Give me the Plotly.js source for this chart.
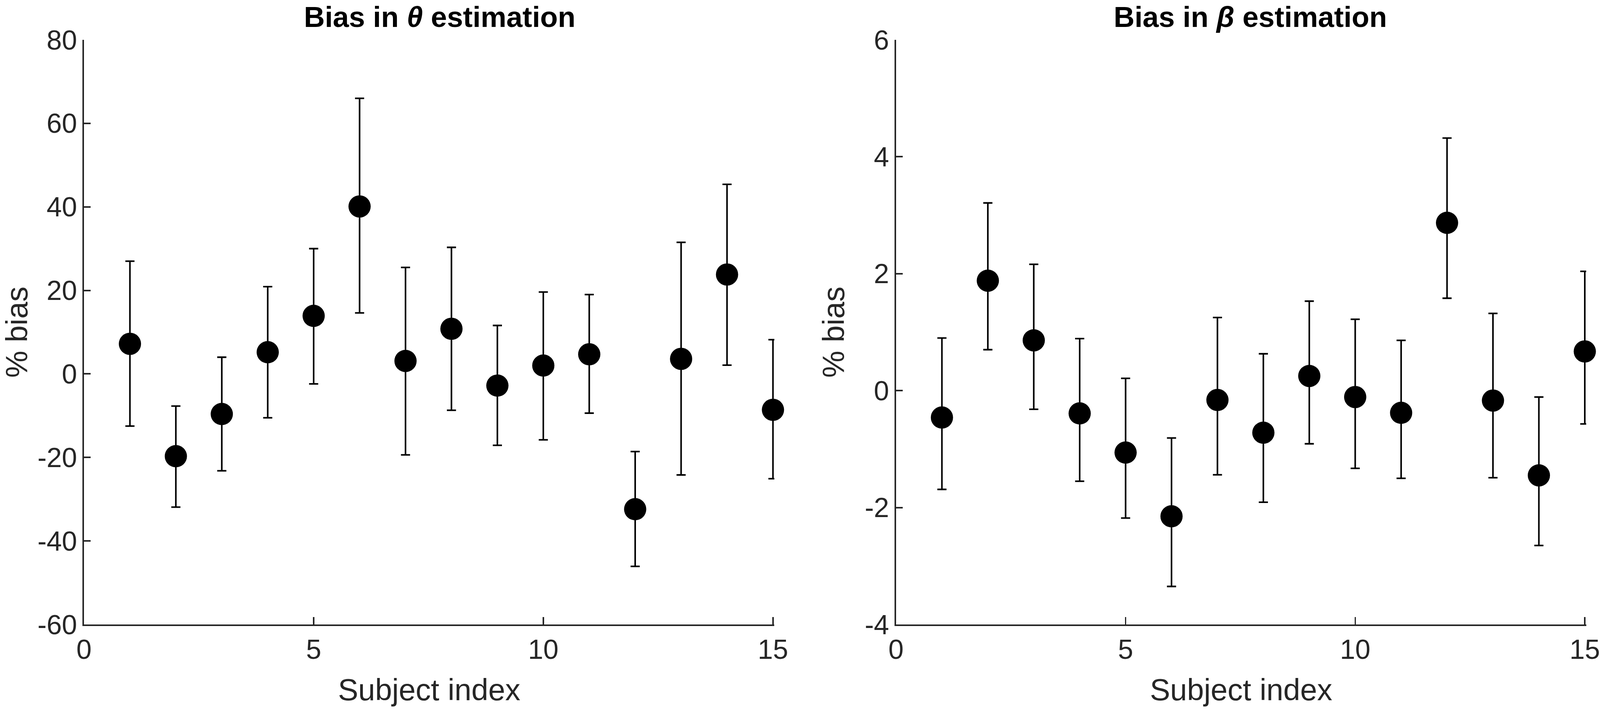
<!DOCTYPE html>
<html>
<head>
<meta charset="utf-8">
<script src="https://cdn.plot.ly/plotly-3.0.1.min.js"></script>
<style>html,body{margin:0;padding:0;background:#fff;overflow:hidden;}</style>
</head>
<body>
<div id="chart"></div>
<script>
const subjects = [1,2,3,4,5,6,7,8,9,10,11,12,13,14,15];

const thetaBias  = [7.2,-19.7,-9.6,5.2,13.9,40.1,3.1,10.8,-2.8,2.0,4.7,-32.4,3.6,23.8,-8.6];
const thetaUpper = [27.0,-7.7,4.0,20.9,30.0,66.0,25.5,30.3,11.6,19.6,19.0,-18.6,31.5,45.4,8.2];
const thetaLower = [-12.5,-31.9,-23.2,-10.5,-2.4,14.6,-19.4,-8.7,-17.1,-15.8,-9.4,-46.1,-24.2,2.1,-25.1];

const betaBias  = [-0.46,1.88,0.86,-0.39,-1.06,-2.15,-0.16,-0.72,0.25,-0.11,-0.38,2.87,-0.17,-1.45,0.67];
const betaUpper = [0.90,3.21,2.16,0.89,0.21,-0.81,1.25,0.63,1.53,1.22,0.86,4.32,1.32,-0.11,2.04];
const betaLower = [-1.69,0.70,-0.32,-1.55,-2.18,-3.35,-1.44,-1.91,-0.91,-1.33,-1.50,1.58,-1.49,-2.65,-0.57];

const xTickVals = [0,5,10,15];
const thetaTicks = [-60,-40,-20,0,20,40,60,80];
const betaTicks = [-4,-2,0,2,4,6];

const ink = '#262626';
const FONT = '"Liberation Sans", Arial, Helvetica, sans-serif';

const W = window.innerWidth || 4550, H = window.innerHeight || 1818;
const sx = W / 4550, sy = H / 1818;
const sf = Math.sqrt(sx * sy);

// tiny overshoot past 15 so the last error bar is not clipped (axis visually ends at 15)
const XMAX = 15.03;
const ext = 0.03 * 130.6 / 4550;

function trace(y, up, lo, xa, ya) {
  return {
    x: subjects, y: y, xaxis: xa, yaxis: ya,
    type: 'scatter', mode: 'markers',
    cliponaxis: false,
    marker: {color: '#000', size: 60 * sf, line: {width: 0}},
    error_y: {
      type: 'data', symmetric: false,
      array: up.map((v, i) => v - y[i]),
      arrayminus: lo.map((v, i) => y[i] - v),
      color: '#000', thickness: 4.5 * sx, width: 13 * sx
    },
    showlegend: false, hoverinfo: 'skip'
  };
}

function xaxis(domain, anchor) {
  return {
    domain: domain, anchor: anchor, range: [0, XMAX],
    tickvals: xTickVals, ticktext: xTickVals.map(String),
    ticks: 'inside', ticklen: 19 * sy, tickwidth: 4 * sx, tickcolor: ink,
    showline: true, linecolor: ink, linewidth: 4 * sy,
    showgrid: false, zeroline: false,
    ticklabeloverflow: 'allow',
    tickfont: {family: FONT, size: 74 * sf, color: ink},
    title: {text: 'Subject index', font: {family: FONT, size: 82 * sf, color: ink}, standoff: 38 * sy},
    automargin: false
  };
}

function yaxis(domain, anchor, range, ticks) {
  return {
    domain: domain, anchor: anchor, range: range,
    tickvals: ticks, ticktext: ticks.map(String),
    ticks: 'inside', ticklen: 19 * sx, tickwidth: 4 * sy, tickcolor: ink,
    showline: true, linecolor: ink, linewidth: 4 * sx,
    showgrid: false, zeroline: false,
    ticklabeloverflow: 'allow',
    tickfont: {family: FONT, size: 74 * sf, color: ink},
    title: {text: '% bias', font: {family: FONT, size: 82 * sf, color: ink}, standoff: 30 * sx},
    automargin: false
  };
}

const yDom = [0.1205, 0.9439];

const layout = {
  width: W, height: H,
  margin: {l: 0, r: 0, t: 0, b: 0},
  paper_bgcolor: '#fff', plot_bgcolor: '#fff',
  font: {family: FONT, color: ink},
  xaxis: xaxis([0.0525, 0.4831 + ext], 'y'),
  yaxis: yaxis(yDom, 'x', [-60, 80], thetaTicks),
  xaxis2: xaxis([0.5600, 0.9905 + ext], 'y2'),
  yaxis2: yaxis(yDom, 'x2', [-4, 6], betaTicks),
  annotations: [
    {text: '<b>Bias in <i>θ</i> estimation</b>', xref: 'paper', yref: 'paper',
     x: 0.2747, y: 1, xanchor: 'center', yanchor: 'top', showarrow: false,
     font: {family: FONT, size: 78 * sf, color: '#000'}},
    {text: '<b>Bias in <i>β</i> estimation</b>', xref: 'paper', yref: 'paper',
     x: 0.7815, y: 1, xanchor: 'center', yanchor: 'top', showarrow: false,
     font: {family: FONT, size: 78 * sf, color: '#000'}}
  ]
};

Plotly.newPlot('chart', [
  trace(thetaBias, thetaUpper, thetaLower, 'x', 'y'),
  trace(betaBias, betaUpper, betaLower, 'x2', 'y2')
], layout, {staticPlot: true});
</script>
</body>
</html>
